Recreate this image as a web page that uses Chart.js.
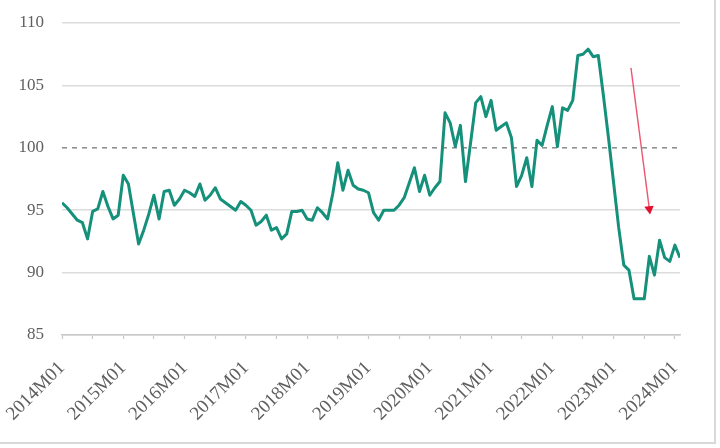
<!DOCTYPE html>
<html>
<head>
<meta charset="utf-8">
<script src="https://cdn.jsdelivr.net/npm/chart.js@4.4.1/dist/chart.umd.min.js"></script>
<style>
  html, body { margin: 0; padding: 0; background: #fff; }
  .frame {
    width: 714px; height: 442px;
    border-right: 2px solid #d9d9d9;
    border-bottom: 2px solid #d9d9d9;
    position: relative;
  }
</style>
</head>
<body>
<div class="frame"><canvas id="chart" width="714" height="442"></canvas></div>
<script>
// monthly index, 2014M01 .. 2024M02
const index2014 = [95.6, 95.2, 94.7, 94.2, 94.0, 92.7, 94.9, 95.1, 96.5, 95.3, 94.3, 94.6];
const index2015 = [97.8, 97.1, 94.7, 92.3, 93.4, 94.7, 96.2, 94.3, 96.5, 96.6, 95.4, 95.9];
const index2016 = [96.6, 96.4, 96.1, 97.1, 95.8, 96.2, 96.8, 95.9, 95.6, 95.3, 95.0, 95.7];
const index2017 = [95.4, 95.0, 93.8, 94.1, 94.6, 93.4, 93.6, 92.7, 93.1, 94.9, 94.9, 95.0];
const index2018 = [94.3, 94.2, 95.2, 94.8, 94.3, 96.3, 98.8, 96.6, 98.2, 97.0, 96.7, 96.6];
const index2019 = [96.4, 94.8, 94.2, 95.0, 95.0, 95.0, 95.4, 96.0, 97.2, 98.4, 96.5, 97.8];
const index2020 = [96.2, 96.8, 97.3, 102.8, 102.0, 100.1, 101.8, 97.3, 100.4, 103.6, 104.1, 102.5];
const index2021 = [103.8, 101.4, 101.7, 102.0, 100.8, 96.9, 97.8, 99.2, 96.9, 100.6, 100.2, 101.8];
const index2022 = [103.3, 100.1, 103.2, 103.0, 103.8, 107.4, 107.5, 107.9, 107.3, 107.4, 104.2, 100.8];
const index2023 = [97.2, 93.6, 90.6, 90.2, 87.9, 87.9, 87.9, 91.3, 89.8, 92.6, 91.2, 90.9];
const index2024 = [92.2, 91.2];

const tickLabels = ['2014M01', '2015M01', '2016M01', '2017M01', '2018M01', '2019M01',
                    '2020M01', '2021M01', '2022M01', '2023M01', '2024M01'];
const yTicks = [85, 90, 95, 100, 105, 110];

const baseLevel = 100;
// arrow: start and end, in (month index, value)
const arrowX = [111.4, 115.0];
const arrowY = [106.4, 95.1];

const values = [].concat(index2014, index2015, index2016, index2017, index2018, index2019,
                         index2020, index2021, index2022, index2023, index2024);
const lastIdx = values.length - 1;

const textColor = '#5f5f5f';
const serif = "'Liberation Serif', 'DejaVu Serif', serif";

new Chart(document.getElementById('chart'), {
    type: 'line',
    data: {
        datasets: [
            {
                data: arrowX.map((x, i) => ({ x: x, y: arrowY[i] })),
                borderColor: 'rgba(232, 58, 88, 0.85)',
                borderWidth: 1.4,
                pointRadius: [0, 5.5],
                pointStyle: 'triangle',
                pointRotation: 173,
                pointBackgroundColor: '#e3112f',
                pointBorderColor: '#e3112f',
                pointBorderWidth: 0,
                order: 0
            },
            {
                data: values.map((v, i) => ({ x: i, y: v })),
                borderColor: '#15907a',
                borderWidth: 3,
                pointRadius: 0,
                tension: 0,
                borderJoinStyle: 'round',
                order: 1
            },
            {
                data: [{ x: 0, y: baseLevel }, { x: lastIdx, y: baseLevel }],
                borderColor: '#8a8a8a',
                borderWidth: 1.5,
                borderDash: [5, 5],
                pointRadius: 0,
                order: 2
            }
        ]
    },
    options: {
        responsive: false,
        animation: false,
        layout: { padding: { left: 0, right: 34, top: 23, bottom: 0 } },
        plugins: { legend: { display: false }, tooltip: { enabled: false } },
        scales: {
            x: {
                type: 'linear',
                min: 0,
                max: lastIdx,
                afterFit: s => { s.height = 107; s.paddingLeft = 0; s.paddingRight = 0; },
                // tick marks every half year, labels every January
                afterBuildTicks: s => {
                    s.ticks = Array.from({ length: tickLabels.length * 2 - 1 }, (_, i) => ({ value: i * 6 }));
                },
                border: { color: '#c8c8c8', width: 1.5 },
                grid: { drawOnChartArea: false, drawTicks: true, tickLength: 4, tickColor: '#c8c8c8', tickWidth: 1.2 },
                ticks: {
                    autoSkip: false,
                    minRotation: 45,
                    maxRotation: 45,
                    padding: 18,
                    color: textColor,
                    font: { family: serif, size: 19 },
                    callback: v => (v % 12 === 0 ? tickLabels[v / 12] : '')
                }
            },
            y: {
                min: yTicks[0],
                max: yTicks[yTicks.length - 1],
                afterFit: s => { s.width = 62; s.paddingTop = 0; s.paddingBottom = 0; },
                afterBuildTicks: s => { s.ticks = yTicks.map(v => ({ value: v })); },
                border: { display: false },
                grid: {
                    drawTicks: false,
                    lineWidth: 1.5,
                    color: ctx => (ctx.tick && ctx.tick.value === baseLevel ? 'rgba(0,0,0,0)' : '#dcdcdc')
                },
                ticks: {
                    padding: 18,
                    color: textColor,
                    font: { family: serif, size: 17 }
                }
            }
        }
    }
});
</script>
</body>
</html>
